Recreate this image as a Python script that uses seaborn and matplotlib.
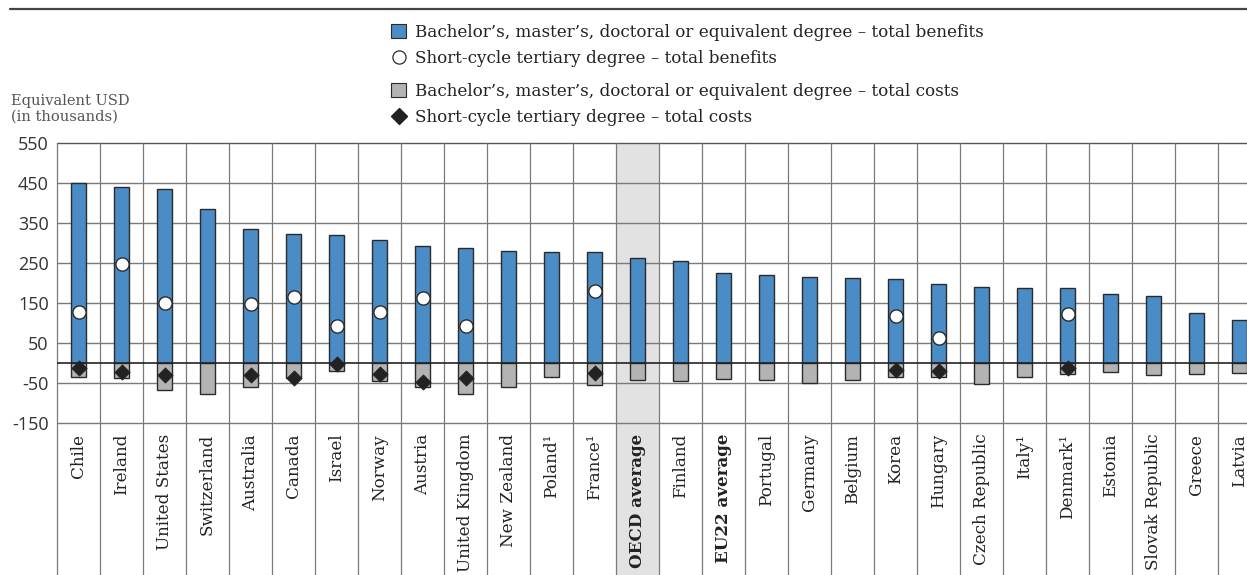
import numpy as np
import pandas as pd
import matplotlib
matplotlib.use("Agg")
import matplotlib.pyplot as plt
from matplotlib.patches import Rectangle
from matplotlib.lines import Line2D
import seaborn as sns

nan = np.nan

countries = ["Chile", "Ireland", "United States", "Switzerland", "Australia", "Canada",
             "Israel", "Norway", "Austria", "United Kingdom", "New Zealand", "Poland¹",
             "France¹", "OECD average", "Finland", "EU22 average", "Portugal", "Germany",
             "Belgium", "Korea", "Hungary", "Czech Republic", "Italy¹", "Denmark¹",
             "Estonia", "Slovak Republic", "Greece", "Latvia"]

# Equivalent USD, thousands
tertiary_benefits = [449, 440, 435, 384, 334, 322, 319, 306, 291, 288, 280, 277, 276, 263,
                     254, 224, 220, 215, 212, 210, 196, 190, 188, 186, 171, 166, 125, 108]
short_cycle_benefits = [126, 248, 149, nan, 148, 165, 92, 127, 161, 92, nan, nan, 179, nan,
                        nan, nan, nan, nan, nan, 118, 62, nan, nan, 123, nan, nan, nan, nan]
tertiary_costs = [-35, -39, -69, -79, -61, -38, -21, -46, -61, -78, -61, -35, -56, -44,
                  -46, -41, -44, -51, -42, -36, -36, -54, -35, -29, -22, -30, -28, -25]
short_cycle_costs = [-14, -22, -31, nan, -31, -37, -4, -27, -49, -37, nan, nan, -25, nan,
                     nan, nan, nan, nan, nan, -18, -20, nan, nan, -13, nan, nan, nan, nan]

y_ticks = [550, 450, 350, 250, 150, 50, -50, -150]
highlighted = ["OECD average", "EU22 average"]

benefit_labels = [
    "Bachelor’s, master’s, doctoral or equivalent degree – total benefits",
    "Short-cycle tertiary degree – total benefits",
]
cost_labels = [
    "Bachelor’s, master’s, doctoral or equivalent degree – total costs",
    "Short-cycle tertiary degree – total costs",
]

df = pd.DataFrame({
    "country": countries,
    "ba_benefits": tertiary_benefits,
    "sc_benefits": short_cycle_benefits,
    "ba_costs": tertiary_costs,
    "sc_costs": short_cycle_costs,
})

BLUE = "#4a8cc5"
GREY = "#b3b3b3"
EDGE = "#2b2b2b"
GRID = "#7a7a7a"
SERIF = ["DejaVu Serif"]
SANS = ["Open Sans", "DejaVu Sans"]

sns.set_theme(style="white")
plt.rcParams["font.family"] = SERIF

W, H = 1247, 575
fig = plt.figure(figsize=(W / 100, H / 100), dpi=100)
n = len(countries)
col_w = 43
left_px, top_px, bot_px = 57, 142.7, 422.7
ax = fig.add_axes([left_px / W, (H - bot_px) / H, n * col_w / W, (bot_px - top_px) / H])

ymin, ymax = -150, 550
# value at the bottom edge of the figure, so separators run through the label area
y_fig_bottom = ymin - (H - bot_px) * (ymax - ymin) / (bot_px - top_px)

# shaded OECD column
oecd_idx = countries.index("OECD average")
ax.add_patch(Rectangle((oecd_idx - 0.5, y_fig_bottom), 1, ymax - y_fig_bottom,
                       facecolor="#e2e2e2", edgecolor="none", zorder=0, clip_on=False))

# horizontal grid
for t in y_ticks:
    ax.axhline(t, color="#555555" if t == 550 else GRID, lw=1.0, zorder=1, clip_on=False)
ax.axhline(0, color="#222222", lw=1.2, zorder=4)

# column separators
ax.vlines(np.arange(n + 1) - 0.5, y_fig_bottom, ymax, color=GRID, lw=0.9,
          zorder=1, clip_on=False)

sns.barplot(data=df, x="country", y="ba_benefits", order=countries, color=BLUE,
            saturation=1, width=0.36, edgecolor=EDGE, linewidth=1.0, ax=ax, zorder=3)
sns.barplot(data=df, x="country", y="ba_costs", order=countries, color=GREY,
            saturation=1, width=0.36, edgecolor=EDGE, linewidth=1.0, ax=ax, zorder=3)
sns.stripplot(data=df, x="country", y="sc_benefits", order=countries, jitter=False,
              marker="o", size=9.5, color="white", edgecolor=EDGE, linewidth=1.0,
              ax=ax, zorder=5)
sns.stripplot(data=df, x="country", y="sc_costs", order=countries, jitter=False,
              marker="D", size=7.8, color="#222222", edgecolor="#222222", linewidth=0.5,
              ax=ax, zorder=5)

ax.set_xlim(-0.5, n - 0.5)
ax.set_ylim(ymin, ymax)
ax.set_yticks(y_ticks)
ax.set_yticklabels([str(t) for t in y_ticks], fontfamily=SANS, fontsize=13, color="#333333")
ax.tick_params(axis="y", length=0, pad=6)
ax.tick_params(axis="x", length=0, pad=8)
ax.set_xticks(range(n))
ax.set_xticklabels(countries, rotation=90, va="top", ha="center", fontsize=12.1,
                   color="#222222")
for lbl in ax.get_xticklabels():
    if lbl.get_text() in highlighted:
        lbl.set_fontweight("bold")
ax.set_xlabel("")
ax.set_ylabel("")
for s in ax.spines.values():
    s.set_visible(False)

fig.text(11 / W, 1 - 109 / H, "Equivalent USD\n(in thousands)", fontsize=10.5,
         color="#555555", ha="left", va="center", linespacing=1.2)

# rule across the top
fig.add_artist(Line2D([10 / W, 1], [1 - 8.5 / H] * 2, color="#444444", lw=1.6))

benefit_handles = [
    Rectangle((0, 0), 1, 1, facecolor=BLUE, edgecolor=EDGE, lw=0.8),
    Line2D([], [], marker="o", ls="none", markersize=9.5, markerfacecolor="white",
           markeredgecolor=EDGE, markeredgewidth=0.9),
]
cost_handles = [
    Rectangle((0, 0), 1, 1, facecolor=GREY, edgecolor=EDGE, lw=0.8),
    Line2D([], [], marker="D", ls="none", markersize=7.8, markerfacecolor="#222222",
           markeredgecolor="#222222"),
]
leg_kw = dict(loc="upper left", frameon=False, fontsize=12.1, handlelength=0.9,
              handleheight=0.9, handletextpad=0.55, labelspacing=0.54,
              borderaxespad=0, borderpad=0)
leg1 = fig.legend(benefit_handles, benefit_labels,
                  bbox_to_anchor=(391 / W, 1 - 24 / H), **leg_kw)
leg2 = fig.legend(cost_handles, cost_labels,
                  bbox_to_anchor=(391 / W, 1 - 83 / H), **leg_kw)
for leg in (leg1, leg2):
    for t in leg.get_texts():
        t.set_color("#222222")

fig.savefig("out.png", dpi=100)
